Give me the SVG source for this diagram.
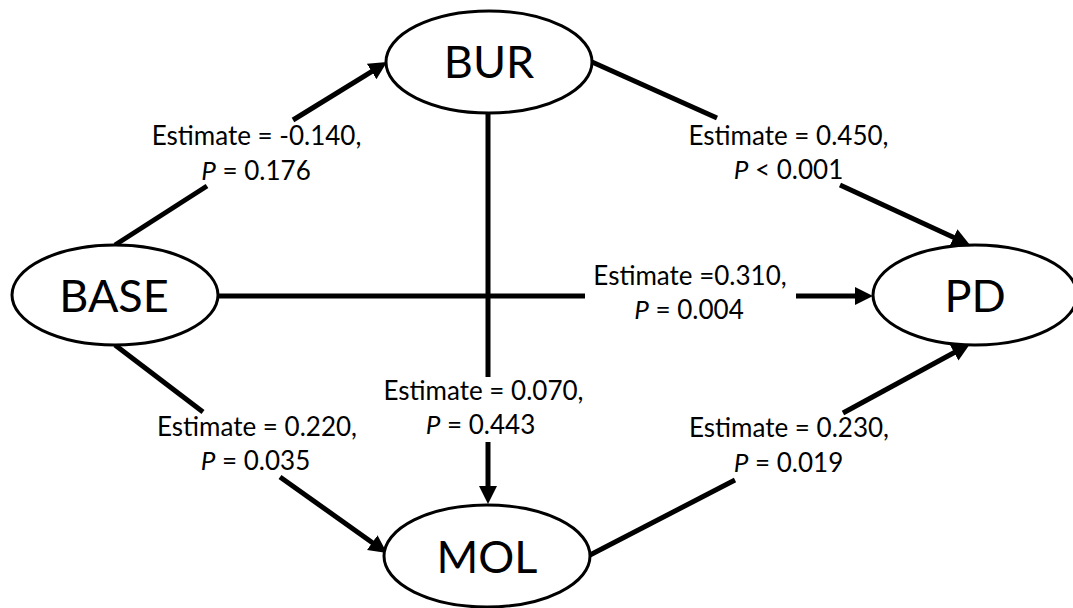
<svg xmlns="http://www.w3.org/2000/svg" width="1073" height="608" viewBox="0 0 1073 608">
<style>
.node ellipse{fill:#fff;stroke:#000;stroke-width:3}
.node text{font-family:Lato,"Liberation Sans",sans-serif;font-size:45px;text-anchor:middle;fill:#000}
.edge line{stroke:#000;stroke-width:5}
.lbl{font-family:Lato,"Liberation Sans",sans-serif;font-size:26px;text-anchor:middle;fill:#000}
.i{font-style:italic}
</style>
<defs>
<marker id="ah" markerUnits="userSpaceOnUse" markerWidth="19" markerHeight="20" refX="8" refY="10" orient="auto" viewBox="0 0 19 20">
<path d="M0,1 L18,10 L0,19 Z" fill="#000"/>
</marker>
</defs>
<rect width="1073" height="608" fill="#fff"/>
<g id="connectors" class="edge">
<line x1="115" y1="245" x2="207" y2="186"/>
<line x1="293" y1="120" x2="378.5" y2="67.3" marker-end="url(#ah)"/>
<line x1="592" y1="62" x2="717" y2="118"/>
<line x1="840" y1="185" x2="960.9" y2="240.8" marker-end="url(#ah)"/>
<line x1="218" y1="296" x2="585" y2="296"/>
<line x1="796" y1="296" x2="863" y2="296" marker-end="url(#ah)"/>
<line x1="488" y1="113" x2="488" y2="377"/>
<line x1="488" y1="442" x2="488" y2="494" marker-end="url(#ah)"/>
<line x1="115" y1="345" x2="203" y2="412"/>
<line x1="280" y1="477" x2="378.8" y2="547.2" marker-end="url(#ah)"/>
<line x1="590" y1="555" x2="735" y2="480"/>
<line x1="843" y1="413" x2="961.2" y2="348.8" marker-end="url(#ah)"/>
</g>
<g id="labels">
<text class="lbl" x="256.5" y="145">Estimate = -0.140,</text>
<text class="lbl" x="256" y="180"><tspan class="i">P</tspan> = 0.176</text>
<text class="lbl" x="788.5" y="145">Estimate = 0.450,</text>
<text class="lbl" x="788.5" y="179"><tspan class="i">P</tspan> &lt; 0.001</text>
<text class="lbl" x="690" y="285">Estimate =0.310,</text>
<text class="lbl" x="689" y="319"><tspan class="i">P</tspan> = 0.004</text>
<text class="lbl" x="483.5" y="400">Estimate = 0.070,</text>
<text class="lbl" x="480.5" y="434"><tspan class="i">P</tspan> = 0.443</text>
<text class="lbl" x="257" y="436">Estimate = 0.220,</text>
<text class="lbl" x="255.5" y="470"><tspan class="i">P</tspan> = 0.035</text>
<text class="lbl" x="789" y="437">Estimate = 0.230,</text>
<text class="lbl" x="788.5" y="472"><tspan class="i">P</tspan> = 0.019</text>
</g>
<g id="BUR" class="node"><ellipse cx="489" cy="62" rx="103" ry="51"/><text x="489" y="78">BUR</text></g>
<g id="BASE" class="node"><ellipse cx="115" cy="295" rx="103" ry="50"/><text x="114" y="312">BASE</text></g>
<g id="PD" class="node"><ellipse cx="975" cy="295" rx="102" ry="50"/><text x="975" y="312">PD</text></g>
<g id="MOL" class="node"><ellipse cx="487" cy="556" rx="103" ry="51"/><text x="487" y="573">MOL</text></g>
</svg>
